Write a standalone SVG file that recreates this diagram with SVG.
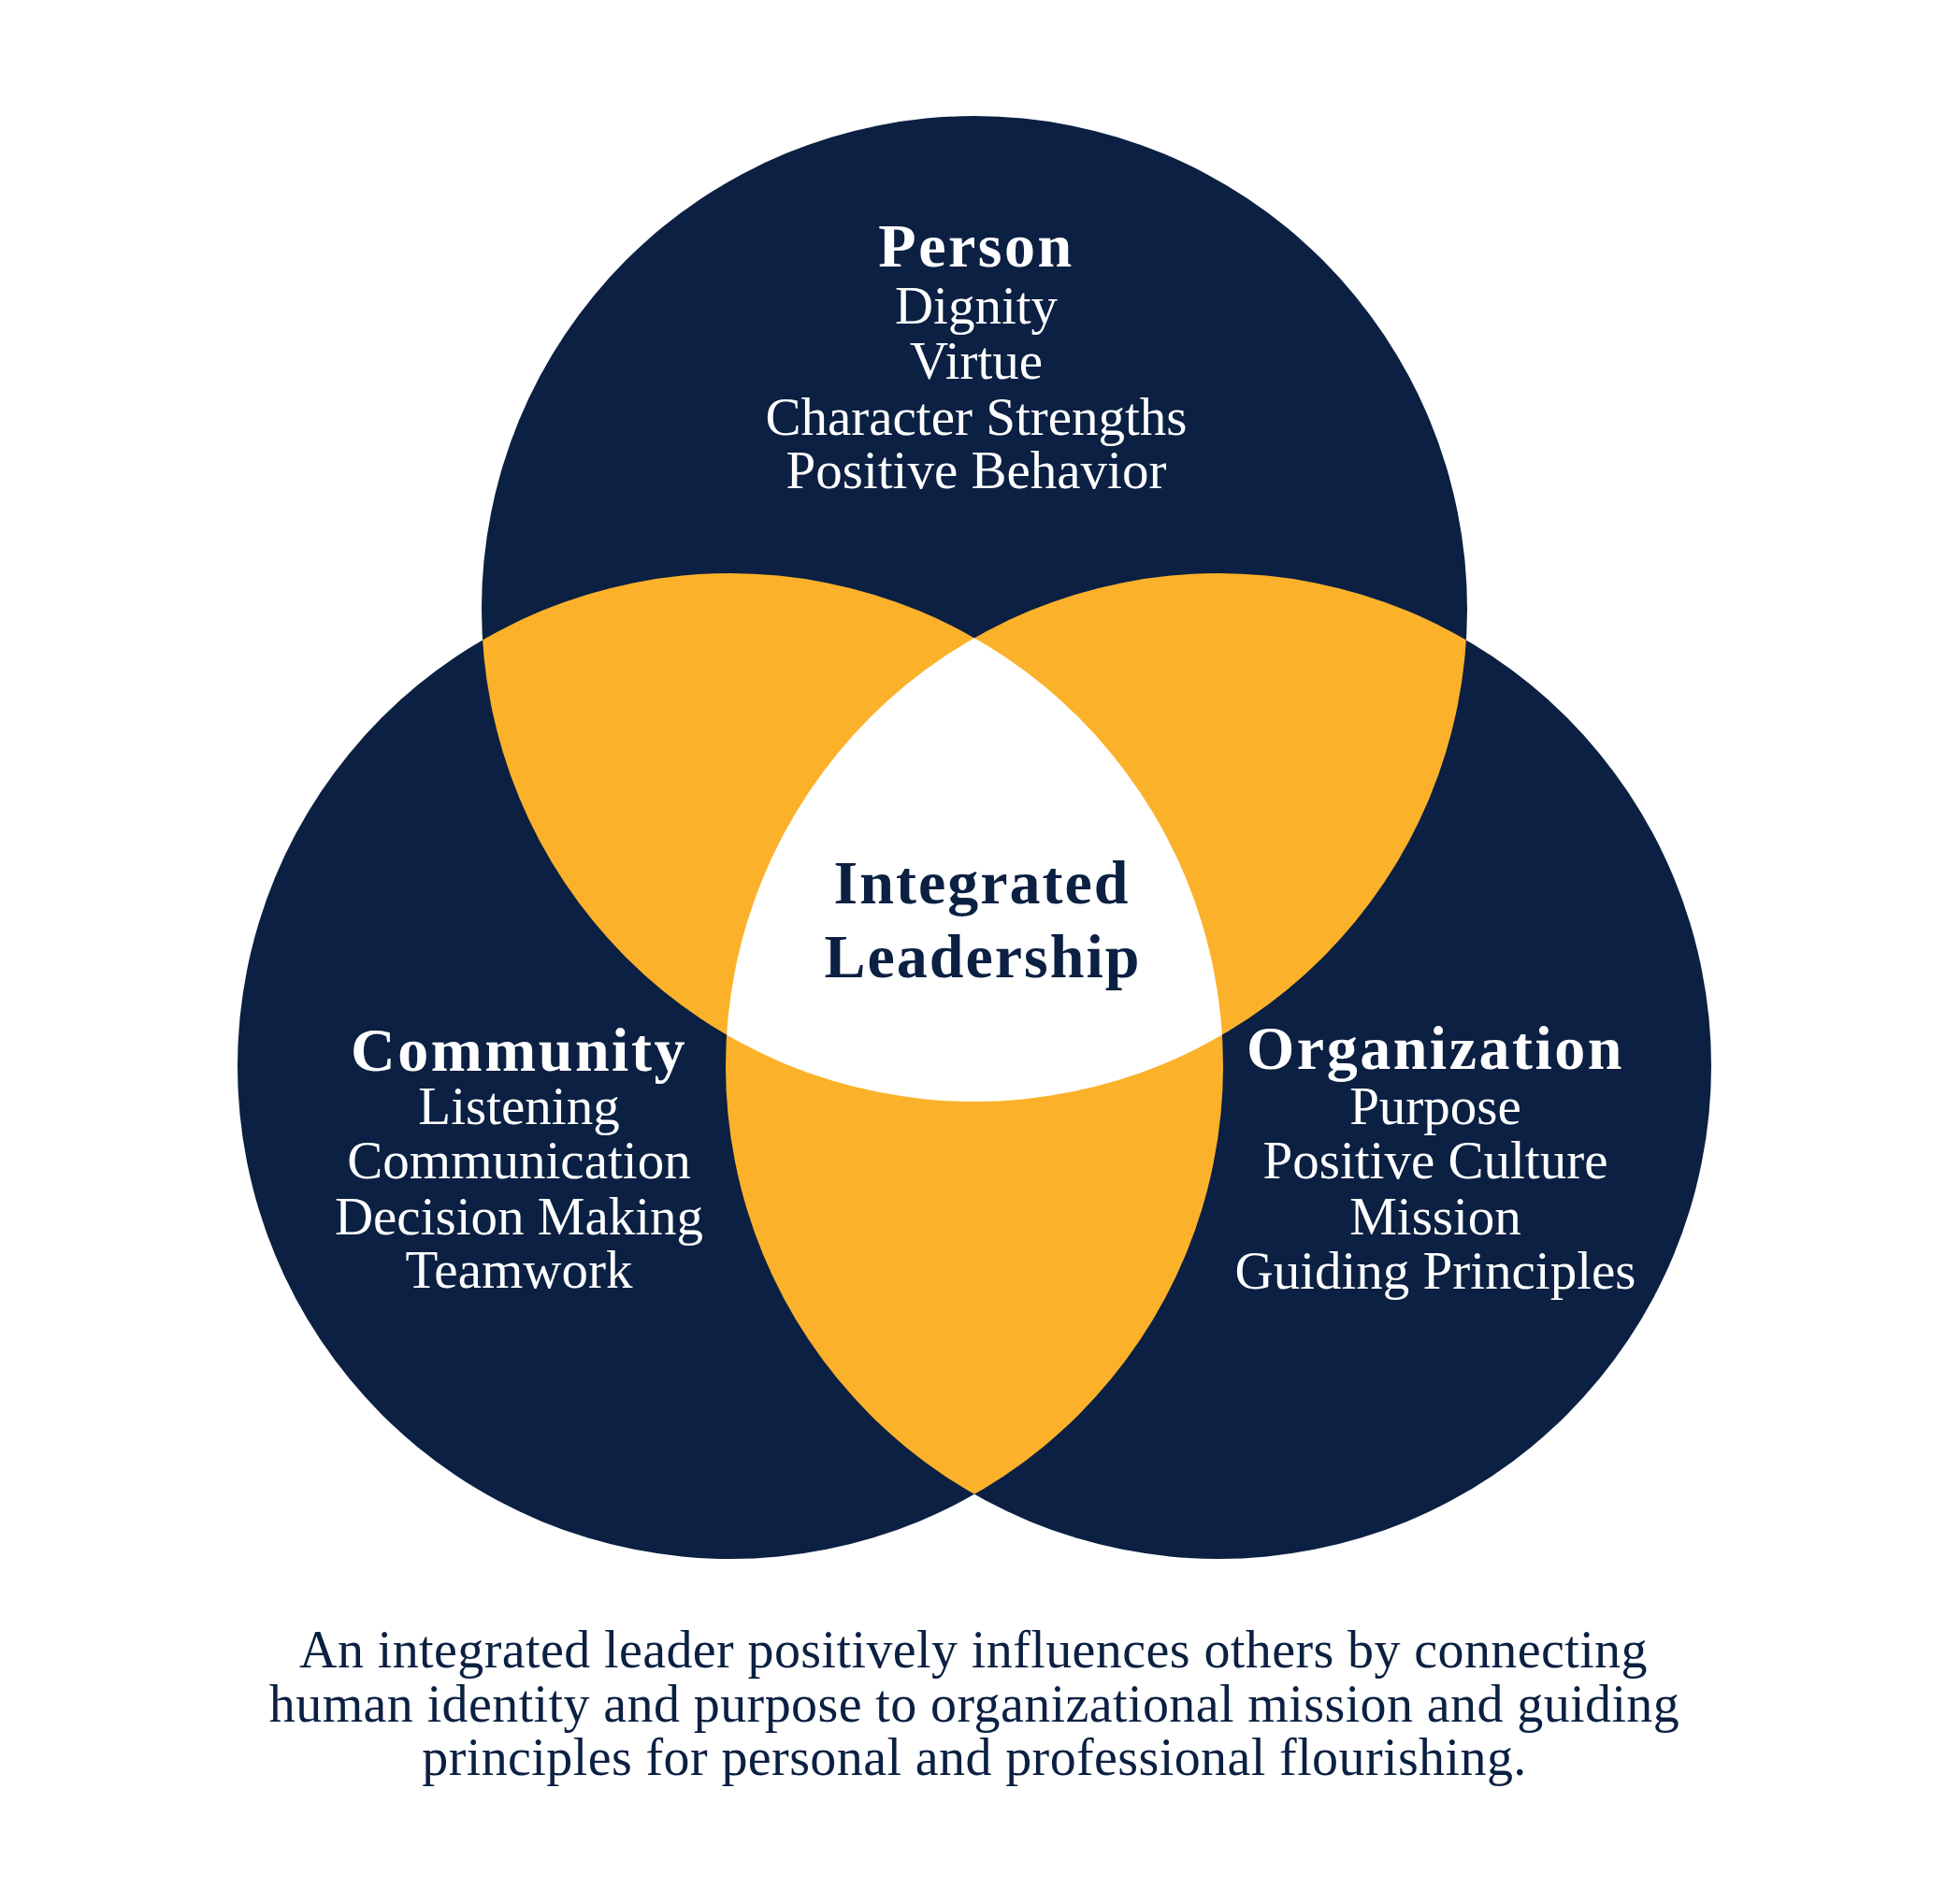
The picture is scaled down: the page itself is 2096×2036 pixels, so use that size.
<svg xmlns="http://www.w3.org/2000/svg" width="2096" height="2036" viewBox="0 0 2096 2036">
<style>
.navy{fill:#0B2042}
.gold{fill:#FBB12A}
.white{fill:#FFFFFF}
text{font-family:"Liberation Serif","Times New Roman",serif;text-anchor:middle}
.head{font-weight:bold;font-size:66px;letter-spacing:2.5px;fill:#FFFFFF}
.item{font-size:57px;fill:#FFFFFF}
.center{font-weight:bold;font-size:66px;letter-spacing:2px;fill:#0B2042}
.cap{font-size:56px;letter-spacing:0.4px;fill:#0B2042}
</style>
<defs>
<clipPath id="cTop"><circle cx="1042" cy="651" r="527"/></clipPath>
<clipPath id="cLeft"><circle cx="781" cy="1140" r="527"/></clipPath>
<clipPath id="cRight"><circle cx="1303" cy="1140" r="527"/></clipPath>
</defs>
<rect width="2096" height="2036" fill="#FFFFFF"/>
<g id="circles">
<circle class="navy" cx="1042" cy="651" r="527"/>
<circle class="navy" cx="781" cy="1140" r="527"/>
<circle class="navy" cx="1303" cy="1140" r="527"/>
<g clip-path="url(#cTop)"><circle class="gold" cx="781" cy="1140" r="527"/><circle class="gold" cx="1303" cy="1140" r="527"/></g>
<g clip-path="url(#cLeft)"><circle class="gold" cx="1303" cy="1140" r="527"/></g>
<g clip-path="url(#cTop)"><g clip-path="url(#cLeft)"><circle class="white" cx="1303" cy="1140" r="527"/></g></g>
</g>
<g id="connectors"/>
<g id="person">
<text class="head" x="1044" y="285">Person</text>
<text class="item" x="1044" y="346">Dignity</text>
<text class="item" x="1044" y="405">Virtue</text>
<text class="item" x="1044" y="465">Character Strengths</text>
<text class="item" x="1044" y="522">Positive Behavior</text>
</g>
<g id="community">
<text class="head" x="555" y="1145">Community</text>
<text class="item" x="555" y="1202">Listening</text>
<text class="item" x="555" y="1260">Communication</text>
<text class="item" x="555" y="1320">Decision Making</text>
<text class="item" x="555" y="1377">Teamwork</text>
</g>
<g id="organization">
<text class="head" x="1535" y="1143">Organization</text>
<text class="item" x="1535" y="1202">Purpose</text>
<text class="item" x="1535" y="1260">Positive Culture</text>
<text class="item" x="1535" y="1320">Mission</text>
<text class="item" x="1535" y="1378">Guiding Principles</text>
</g>
<g id="integrated">
<text class="center" x="1050" y="966">Integrated</text>
<text class="center" x="1051" y="1045">Leadership</text>
</g>
<g id="caption">
<text class="cap" x="1041" y="1783">An integrated leader positively influences others by connecting</text>
<text class="cap" x="1042" y="1841">human identity and purpose to organizational mission and guiding</text>
<text class="cap" x="1042" y="1898">principles for personal and professional flourishing.</text>
</g>
</svg>
